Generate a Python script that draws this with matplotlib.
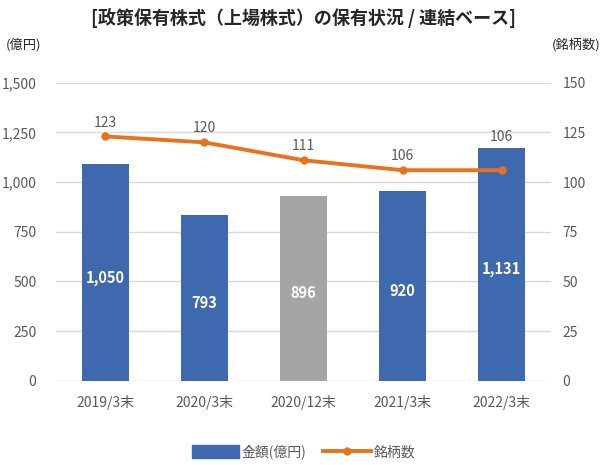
import matplotlib
matplotlib.use("Agg")
import matplotlib.pyplot as plt
from matplotlib.patches import Patch
from matplotlib.lines import Line2D

plt.rcParams['font.family'] = ['Noto Sans CJK JP', 'DejaVu Sans']

categories = ["2019/3末", "2020/3末", "2020/12末", "2021/3末", "2022/3末"]
amounts = [1089, 834, 931, 956, 1173]          # bar heights as drawn
amount_labels = ["1,050", "793", "896", "920", "1,131"]
counts = [123, 120, 111, 106, 106]
left_ticks = [0, 250, 500, 750, 1000, 1250, 1500]
right_ticks = [0, 25, 50, 75, 100, 125, 150]

blue = "#3F69AE"
gray = "#A5A5A5"
orange = "#E8731F"
txt = "#595959"
bar_colors = [blue, blue, gray, blue, blue]

fig = plt.figure(figsize=(6.07, 4.65), dpi=100)
ax = fig.add_axes([0.092, 0.181, 0.816, 0.641])
ax2 = ax.twinx()

x = list(range(len(categories)))
ax.bar(x, amounts, width=0.47, color=bar_colors, zorder=2)
for xi, h, lab in zip(x, amounts, amount_labels):
    ax.text(xi, h / 2 - 25, lab, ha='center', va='center', color='white',
            fontsize=10.5, fontweight='bold', zorder=3)

ax.set_ylim(0, 1500)
ax.set_xlim(-0.5, len(categories) - 0.5)
ax.set_yticks(left_ticks)
ax.set_yticklabels([f"{v:,}" for v in left_ticks])
ax.grid(axis='y', color='#D9D9D9', linewidth=1, zorder=0)
ax.set_axisbelow(True)
ax.set_xticks(x)
ax.set_xticklabels(categories)
ax.tick_params(axis='both', length=0, colors=txt, labelsize=10)
ax.tick_params(axis='x', pad=10)
ax.tick_params(axis='y', pad=14)

ax2.plot(x, counts, color=orange, linewidth=2.8, marker='o', markersize=5, zorder=4)
ratio = 1500 / 150
for xi, c, h in zip(x, counts, amounts):
    ylab = max(c + 7, h / ratio + 5.5)
    ax2.text(xi, ylab, str(c), ha='center', va='center', color=txt, fontsize=10)
ax2.set_ylim(0, 150)
ax2.set_yticks(right_ticks)
ax2.tick_params(axis='y', length=0, colors=txt, labelsize=10, pad=8)

for a in (ax, ax2):
    for s in a.spines.values():
        s.set_visible(False)

fig.text(0.5, 0.962, "[政策保有株式（上場株式）の保有状況 / 連結ベース]", ha='center', va='center',
         fontsize=13, fontweight='bold', color='#262626')
fig.text(0.01, 0.903, "(億円)", ha='left', va='center', fontsize=9.5, color='#262626')
fig.text(0.99, 0.903, "(銘柄数)", ha='right', va='center', fontsize=9.5, color='#262626')

handles = [Patch(facecolor=blue, edgecolor=blue),
           Line2D([0], [0], color=orange, linewidth=2.8, marker='o', markersize=5)]
fig.legend(handles, ["金額(億円)", "銘柄数"], loc='center', bbox_to_anchor=(0.5, 0.028),
           ncol=2, frameon=False, fontsize=10, labelcolor=txt, handlelength=3.4,
           handleheight=1.1, handletextpad=0.2, columnspacing=1.2)

fig.savefig("out.png", dpi=100)
